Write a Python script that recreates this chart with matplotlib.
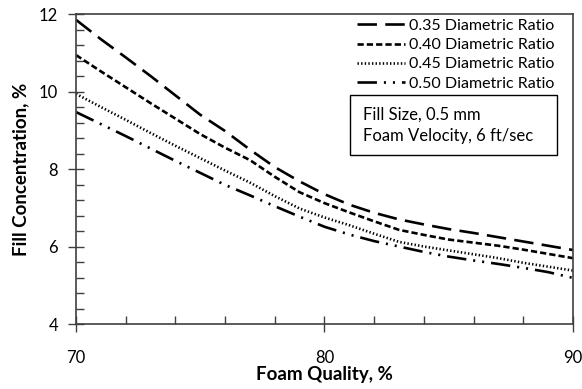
import numpy as np
import matplotlib.pyplot as plt
from matplotlib.patches import Rectangle
from matplotlib.ticker import MultipleLocator

plt.rcParams['font.family'] = ['Lato', 'DejaVu Sans']
plt.rcParams['lines.scale_dashes'] = False

quality = [70, 71, 72, 73, 74, 75, 76, 77, 78, 79, 80,
           81, 82, 83, 84, 85, 86, 87, 88, 89, 90]
ratio_035 = [11.85, 11.35, 10.88, 10.40, 9.90, 9.40, 8.98, 8.50, 8.05, 7.68, 7.35,
             7.08, 6.87, 6.70, 6.57, 6.45, 6.35, 6.24, 6.13, 6.02, 5.91]
ratio_040 = [10.94, 10.52, 10.11, 9.70, 9.30, 8.90, 8.55, 8.23, 7.80, 7.40, 7.12,
             6.88, 6.65, 6.43, 6.30, 6.18, 6.10, 6.02, 5.92, 5.81, 5.70]
ratio_045 = [9.94, 9.60, 9.27, 8.93, 8.60, 8.28, 7.96, 7.65, 7.30, 6.98, 6.75,
             6.55, 6.33, 6.12, 6.00, 5.90, 5.80, 5.70, 5.58, 5.48, 5.38]
ratio_050 = [9.47, 9.16, 8.85, 8.53, 8.21, 7.90, 7.59, 7.32, 7.04, 6.77, 6.51,
             6.31, 6.14, 6.00, 5.86, 5.74, 5.64, 5.55, 5.45, 5.34, 5.19]

labels = ['0.35 Diametric Ratio', '0.40 Diametric Ratio',
          '0.45 Diametric Ratio', '0.50 Diametric Ratio']
dashes = [(14, 6), (4.5, 2.2), (1.0, 1.6), (14, 5, 1.5, 5, 1.5, 5)]

fig = plt.figure(figsize=(5.82, 3.89), dpi=100)
ax = fig.add_axes([0.1306, 0.167, 0.8539, 0.797])

for ys, lab, d in zip([ratio_035, ratio_040, ratio_045, ratio_050], labels, dashes):
    ax.plot(quality, ys, color='black', lw=1.9, dashes=d, label=lab)

ax.set_xlim(70, 90)
ax.set_ylim(4, 12)
ax.xaxis.set_major_locator(MultipleLocator(10))
ax.xaxis.set_minor_locator(MultipleLocator(2))
ax.yaxis.set_major_locator(MultipleLocator(2))
ax.yaxis.set_minor_locator(MultipleLocator(0.4))
ax.tick_params(which='major', direction='inout', length=12, width=1, color='#404040',
               labelsize=12)
ax.tick_params(which='minor', direction='in', length=6, width=1, color='#404040')
ax.tick_params(axis='x', which='major', pad=13)
ax.tick_params(axis='y', which='major', pad=7)
for s in ax.spines.values():
    s.set_color('#404040')
    s.set_linewidth(1.2)

ax.set_xlabel('Foam Quality, %', fontsize=13.5, fontweight='bold', labelpad=0)
ax.set_ylabel('Fill Concentration, %', fontsize=13.5, fontweight='bold', labelpad=7)

ax.legend(loc='upper right', bbox_to_anchor=(0.962, 0.985), frameon=False,
          fontsize=11.5, handlelength=3.0, handletextpad=0.2,
          labelspacing=0.32, borderpad=0, borderaxespad=0)

ax.add_patch(Rectangle((0.551, 0.545), 0.417, 0.194, transform=ax.transAxes,
                       facecolor='white', edgecolor='black', lw=1))
ax.text(0.577, 0.674, 'Fill Size, 0.5 mm', transform=ax.transAxes,
        fontsize=12, va='center')
ax.text(0.577, 0.606, 'Foam Velocity, 6 ft/sec', transform=ax.transAxes,
        fontsize=12, va='center')

fig.savefig('out.png', dpi=100)
